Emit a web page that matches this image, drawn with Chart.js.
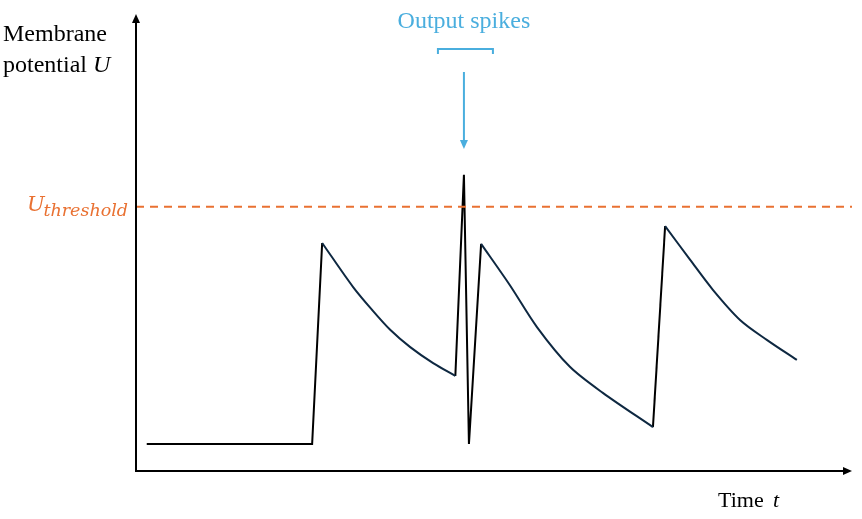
<!DOCTYPE html>
<html>
<head>
<meta charset="utf-8">
<script src="https://cdn.jsdelivr.net/npm/chart.js@4.4.0/dist/chart.umd.min.js"></script>
<style>
  html, body { margin: 0; padding: 0; background: #fff; }
  #wrap { width: 862px; height: 519px; position: relative; }
</style>
</head>
<body>
<div id="wrap"><canvas id="uChart" width="862" height="519"></canvas></div>
<script>
// Tempo (0..100) e potencial U (0..100)
const timeValues = [1.5, 24.6, 26.0, 30.3, 33.0, 35.5, 38.3, 41.5, 44.6, 45.8, 46.5, 48.2,
                    52.2, 56.0, 60.6, 65.2, 72.2, 73.9, 77.4, 80.6, 84.4, 88.1, 92.3];
const potentialValues = [5.9, 5.9, 49.9, 40.3, 35.2, 30.9, 27.1, 23.6, 20.8, 64.8, 5.9, 49.7,
                         40.7, 31.5, 22.8, 17.1, 9.6, 53.6, 46.2, 39.6, 33.0, 28.7, 24.3];
const thresholdValue = 57.8;
const timeRange = [0, 100];
const potentialRange = [0, 100];

// trechos (índices inicial e final) de subida/disparo e de decaimento
const riseParts = [[0, 2], [8, 11], [16, 17]];
const decayParts = [[2, 8], [11, 16], [17, 22]];

const labelTexts = {
    yTitle: ['Membrane', 'potential '],
    yVar: 'U',
    threshold: 'U',
    thresholdSub: 'threshold',
    xTitle: 'Time ',
    xVar: 't',
    spikes: 'Output spikes'
};

const navy = '#0e2841';
const black = '#000000';
const orange = '#e97132';
const blue = '#4aaede';

const membraneData = timeValues.map((t, i) => ({ x: t, y: potentialValues[i] }));
const thresholdData = timeRange.map(t => ({ x: t, y: thresholdValue }));

function part(range, color, tension) {
    return {
        data: membraneData.slice(range[0], range[1] + 1),
        showLine: true,
        borderColor: color,
        borderWidth: 2,
        pointRadius: 0,
        tension: tension
    };
}

// Desenha eixos com setas e os textos
const decorPlugin = {
    id: 'decor',
    afterDatasetsDraw(chart) {
        const c = chart.ctx;
        const area = chart.chartArea;
        const xs = chart.scales.x, ys = chart.scales.y;
        const x0 = area.left, y0 = area.bottom;

        c.save();
        c.strokeStyle = black;
        c.fillStyle = black;
        c.lineWidth = 2;
        // eixo y
        c.beginPath();
        c.moveTo(x0, y0 + 1);
        c.lineTo(x0, area.top + 6);
        c.stroke();
        c.beginPath();
        c.moveTo(x0, area.top);
        c.lineTo(x0 - 4, area.top + 9);
        c.lineTo(x0 + 4, area.top + 9);
        c.closePath();
        c.fill();
        // eixo x
        c.beginPath();
        c.moveTo(x0 - 1, y0);
        c.lineTo(area.right - 6, y0);
        c.stroke();
        c.beginPath();
        c.moveTo(area.right, y0);
        c.lineTo(area.right - 9, y0 - 4);
        c.lineTo(area.right - 9, y0 + 4);
        c.closePath();
        c.fill();

        // título do eixo y
        c.textBaseline = 'alphabetic';
        c.textAlign = 'left';
        c.font = '24px "Liberation Serif"';
        c.fillText(labelTexts.yTitle[0], 3, 41);
        c.fillText(labelTexts.yTitle[1], 3, 72);
        const w1 = c.measureText(labelTexts.yTitle[1]).width;
        c.font = 'italic 24px "Liberation Serif"';
        c.fillText(labelTexts.yVar, 3 + w1, 72);

        // título do eixo x
        c.font = '22px "Liberation Serif"';
        c.fillText(labelTexts.xTitle, 718, 507);
        c.font = 'italic 22px "Liberation Serif"';
        c.fillText(labelTexts.xVar, 773, 507);

        // rótulo do limiar
        const ty = ys.getPixelForValue(thresholdValue);
        c.fillStyle = orange;
        c.textAlign = 'left';
        c.font = 'italic 21px "DejaVu Serif"';
        c.fillText(labelTexts.threshold, 27, ty + 4);
        c.font = 'italic 17.5px "DejaVu Serif"';
        c.textAlign = 'right';
        c.fillText(labelTexts.thresholdSub, x0 - 8, ty + 9);

        // anotação dos disparos
        const sx = xs.getPixelForValue(timeValues[9]);
        c.fillStyle = blue;
        c.strokeStyle = blue;
        c.textAlign = 'center';
        c.font = '24px "Liberation Serif"';
        c.fillText(labelTexts.spikes, sx, 28);
        c.lineWidth = 2;
        c.beginPath();
        c.moveTo(sx - 26, 54);
        c.lineTo(sx - 26, 49);
        c.lineTo(sx + 29, 49);
        c.lineTo(sx + 29, 54);
        c.stroke();
        c.beginPath();
        c.moveTo(sx, 72);
        c.lineTo(sx, 142);
        c.stroke();
        c.beginPath();
        c.moveTo(sx, 149);
        c.lineTo(sx - 4, 140);
        c.lineTo(sx + 4, 140);
        c.closePath();
        c.fill();
        c.restore();
    }
};

const datasets = [{
    label: 'Threshold',
    data: thresholdData,
    showLine: true,
    borderColor: orange,
    borderWidth: 2,
    borderDash: [8, 6],
    pointRadius: 0
}];
decayParts.forEach(r => datasets.push(part(r, navy, 0.3)));
riseParts.forEach(r => datasets.push(part(r, black, 0)));

new Chart(document.getElementById('uChart').getContext('2d'), {
    type: 'scatter',
    data: { datasets: datasets },
    options: {
        responsive: false,
        animation: false,
        events: [],
        layout: { padding: { left: 136, right: 10, top: 14, bottom: 48 } },
        scales: {
            x: { type: 'linear', display: false, min: timeRange[0], max: timeRange[1] },
            y: { type: 'linear', display: false, min: potentialRange[0], max: potentialRange[1] }
        },
        plugins: {
            legend: { display: false },
            tooltip: { enabled: false }
        }
    },
    plugins: [decorPlugin]
});
</script>
</body>
</html>
